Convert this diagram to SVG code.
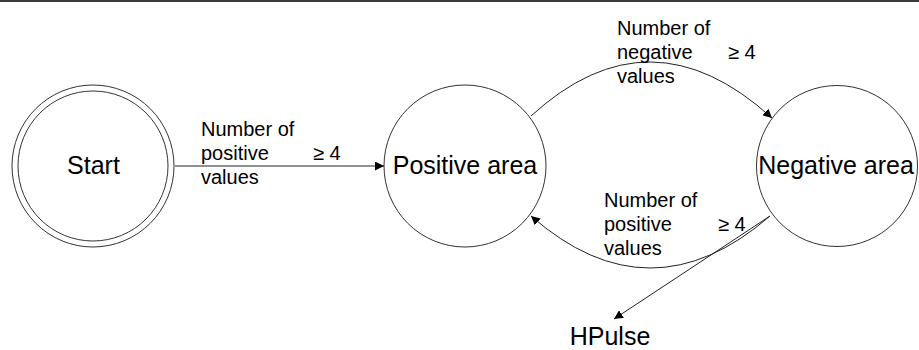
<svg xmlns="http://www.w3.org/2000/svg" width="919" height="350" viewBox="0 0 919 350">
  <defs>
    <marker id="arr" markerWidth="10" markerHeight="9" refX="9" refY="4.5" orient="auto" markerUnits="userSpaceOnUse">
      <path d="M0,0 L9,4.5 L0,9 Z" fill="#000"/>
    </marker>
    <style>
      .state { fill: #fff; stroke: #333; stroke-width: 1; }
      .name { font-family: "Liberation Sans", Arial, Helvetica, sans-serif; font-size: 25px; fill: #000; text-anchor: middle; }
      .lbl { font-family: "Liberation Sans", Arial, Helvetica, sans-serif; font-size: 20px; fill: #000; }
      .edge { fill: none; stroke: #222; stroke-width: 1; marker-end: url(#arr); }
    </style>
  </defs>
  <rect x="0" y="0" width="919" height="350" fill="#fff"/>
  <rect x="0" y="0" width="919" height="2" fill="#3a3a3a"/>

  <g id="connectors">
    <line class="edge" x1="175" y1="166" x2="384" y2="166"/>
    <path class="edge" d="M531,116 Q650,7 772,118"/>
    <path class="edge" d="M770,216 Q650,320 531,216"/>
    <line class="edge" x1="770" y1="216" x2="614" y2="319"/>
  </g>

  <g id="start">
    <circle class="state" cx="93" cy="166" r="81"/>
    <circle class="state" cx="93" cy="166" r="75"/>
    <text class="name" x="93.5" y="174">Start</text>
  </g>

  <g id="positive-area">
    <circle class="state" cx="465" cy="166" r="81"/>
    <text class="name" x="465" y="174">Positive area</text>
  </g>

  <g id="negative-area">
    <circle class="state" cx="837" cy="166" r="80.5"/>
    <text class="name" x="836" y="174">Negative area</text>
  </g>

  <g id="hpulse">
    <text class="name" x="610" y="345">HPulse</text>
  </g>

  <g id="label-start-positive">
    <text class="lbl" x="201" y="136">Number of</text>
    <text class="lbl" x="201" y="160">positive</text>
    <text class="lbl" x="201" y="184">values</text>
    <text class="lbl" x="313" y="160">≥ 4</text>
  </g>

  <g id="label-positive-negative">
    <text class="lbl" x="617" y="35">Number of</text>
    <text class="lbl" x="617" y="59">negative</text>
    <text class="lbl" x="617" y="83">values</text>
    <text class="lbl" x="728" y="59">≥ 4</text>
  </g>

  <g id="label-negative-positive">
    <text class="lbl" x="604" y="207">Number of</text>
    <text class="lbl" x="604" y="231">positive</text>
    <text class="lbl" x="604" y="255">values</text>
    <text class="lbl" x="718" y="231">≥ 4</text>
  </g>
</svg>
